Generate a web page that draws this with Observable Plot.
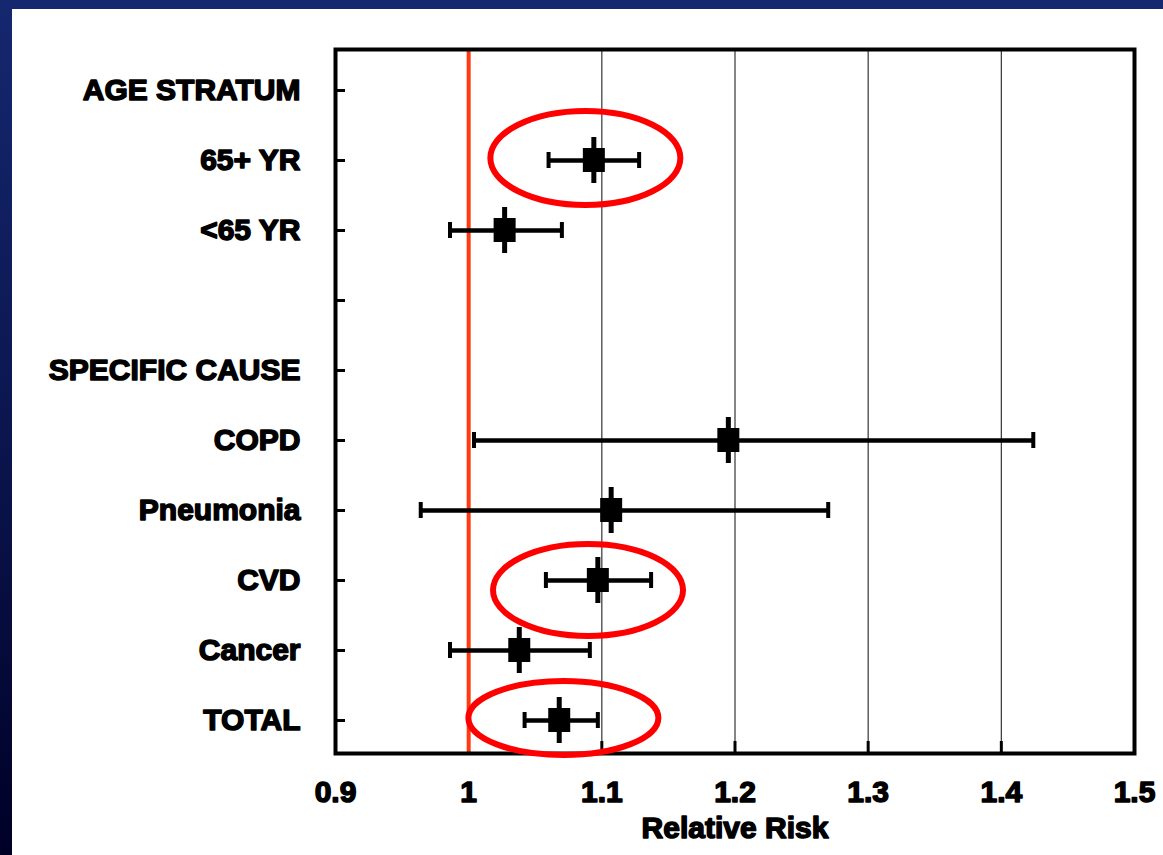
<!DOCTYPE html>
<html><head><meta charset="utf-8">
<script src="https://cdn.jsdelivr.net/npm/d3@7"></script>
<script src="https://cdn.jsdelivr.net/npm/@observablehq/plot@0.6"></script>
<style>
html,body{margin:0;padding:0;width:1163px;height:855px;overflow:hidden;background:linear-gradient(to bottom,#15276f 0%,#0b164f 50%,#000027 100%);}
#panel{position:absolute;left:12px;top:9px;width:1151px;height:846px;background:#fff;}
#chart{position:absolute;left:0;top:0;}
#chart text{font-family:"Liberation Sans",Arial,sans-serif;font-weight:bold;fill:#000;stroke:#000;stroke-width:1.5px;stroke-linejoin:round;}
</style></head><body><div id="panel"></div><div id="chart"></div>
<script>
// Rows (categories) of the chart, top to bottom
const rows = ["AGE STRATUM","65+ YR","<65 YR"," ","SPECIFIC CAUSE","COPD","Pneumonia","CVD","Cancer","TOTAL"];
// Estimates
const groups = ["65+ YR","<65 YR","COPD","Pneumonia","CVD","Cancer","TOTAL"];
const rr     = [1.094, 1.027, 1.195, 1.107, 1.097, 1.038, 1.068];
const lower  = [1.060, 0.986, 1.004, 0.964, 1.058, 0.986, 1.042];
const upper  = [1.128, 1.070, 1.424, 1.270, 1.137, 1.091, 1.097];
// Axis
const xTicks = [0.9, 1, 1.1, 1.2, 1.3, 1.4, 1.5];
const xTickLabels = ["0.9","1","1.1","1.2","1.3","1.4","1.5"];
const gridValues = [1.1, 1.2, 1.3, 1.4];
const refValue = [1];
const xLabel = "Relative Risk";
// Highlighted (circled) rows
const circled = ["65+ YR","CVD","TOTAL"];
const circledCenter = [1.088, 1.090, 1.0715];

const data = groups.map((g, i) => ({label: g, rr: rr[i], lo: lower[i], hi: upper[i]}));

const plot = Plot.plot({
  width: 1163,
  height: 855,
  marginLeft: 335,
  marginRight: 29,
  marginTop: 49,
  marginBottom: 102,
  style: {background: "transparent", overflow: "visible"},
  x: {domain: [0.9, 1.5]},
  y: {type: "point", domain: rows, padding: 0, insetTop: 39, insetBottom: 32},
  marks: [
    Plot.gridX(gridValues, {stroke: "#333", strokeOpacity: 1, strokeWidth: 1.2}),
    Plot.ruleX(gridValues, {insetTop: 692, stroke: "black", strokeWidth: 3}),
    Plot.ruleX(refValue, {stroke: "#ff3a12", strokeWidth: 4}),
    Plot.frame({stroke: "black", strokeWidth: 4}),
    Plot.ruleY(rows, {y: d => d, insetRight: 789, stroke: "black", strokeWidth: 3}),
    Plot.ruleY(data, {y: "label", x1: "lo", x2: "hi", stroke: "black", strokeWidth: 4.5}),
    Plot.ruleX(data, {x: "lo", y1: "label", y2: "label", insetTop: -8, insetBottom: -8, stroke: "black", strokeWidth: 4}),
    Plot.ruleX(data, {x: "hi", y1: "label", y2: "label", insetTop: -8, insetBottom: -8, stroke: "black", strokeWidth: 4}),
    Plot.ruleX(data, {x: "rr", y1: "label", y2: "label", insetTop: -23, insetBottom: -23, stroke: "black", strokeWidth: 5}),
    Plot.ruleX(data, {x: "rr", y1: "label", y2: "label", insetTop: -12, insetBottom: -12, stroke: "black", strokeWidth: 22}),
    Plot.axisY({tickSize: 0, tickPadding: 35, fontSize: 30, label: null}),
    Plot.axisX(xTicks, {tickSize: 0, tickPadding: 27, fontSize: 30, label: null,
      tickFormat: d => xTickLabels[xTicks.indexOf(d)]}),
    Plot.text([xLabel], {frameAnchor: "bottom", dy: 84, fontSize: 30, text: d => d})
  ]
});

document.getElementById("chart").appendChild(plot);

// Red annotation ellipses, placed through the plot's own scales
const sx = plot.scale("x"), sy = plot.scale("y");
const ellipseRx = [95, 95, 95], ellipseRy = [47, 46, 37], ellipseDy = [-2, 10, -2];
d3.select(plot).append("g")
  .attr("fill", "none").attr("stroke", "#ff0000").attr("stroke-width", 6)
  .selectAll("ellipse").data(circled).join("ellipse")
  .attr("cx", (d, i) => sx.apply(circledCenter[i]))
  .attr("cy", (d, i) => sy.apply(d) + ellipseDy[i])
  .attr("rx", (d, i) => ellipseRx[i])
  .attr("ry", (d, i) => ellipseRy[i]);
</script>
</body></html>
